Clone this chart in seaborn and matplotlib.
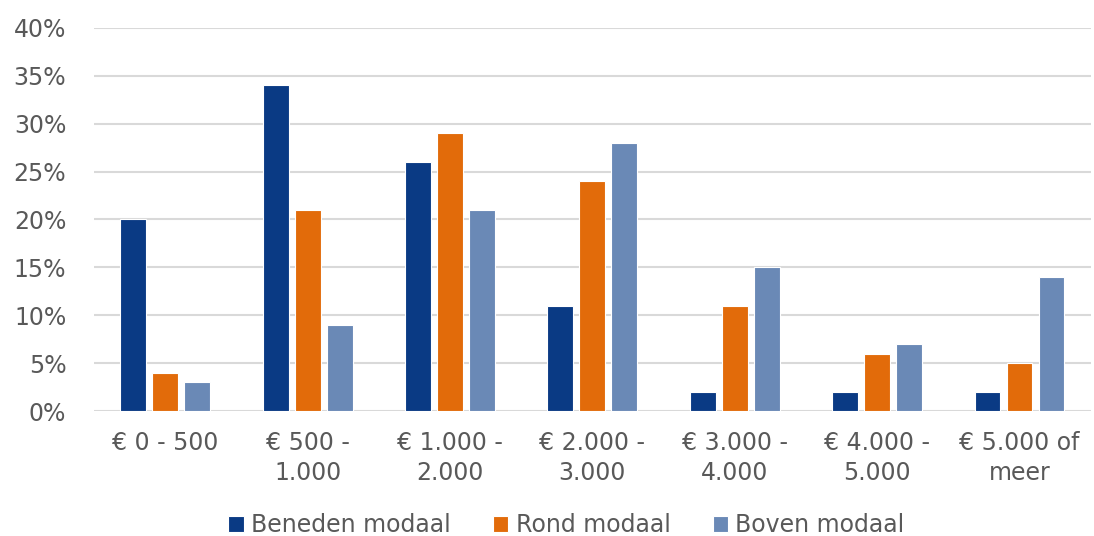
import numpy as np
import pandas as pd
import matplotlib
matplotlib.use("Agg")
import matplotlib.pyplot as plt
import seaborn as sns
from matplotlib.ticker import PercentFormatter

categories = ["€ 0 - 500", "€ 500 -\n1.000", "€ 1.000 -\n2.000", "€ 2.000 -\n3.000",
              "€ 3.000 -\n4.000", "€ 4.000 -\n5.000", "€ 5.000 of\nmeer"]
series = ["Beneden modaal", "Rond modaal", "Boven modaal"]
beneden = [20, 34, 26, 11, 2, 2, 2]
rond = [4, 21, 29, 24, 11, 6, 5]
boven = [3, 9, 21, 28, 15, 7, 14]
colors = ["#0a3a84", "#e26b0a", "#6a89b6"]

df = pd.DataFrame({
    "cat": categories * 3,
    "groep": [s for s in series for _ in categories],
    "pct": beneden + rond + boven,
})

sns.set_style("white")
plt.rcParams["font.family"] = ["DejaVu Sans"]
text_col = "#595959"
fs = 17

fig = plt.figure(figsize=(10.94, 5.36), dpi=100)
ax = fig.add_axes([0.086, 0.233, 0.911, 0.715])

sns.barplot(data=df, x="cat", y="pct", hue="groep", palette=colors, saturation=1,
            width=0.674, gap=0.19, edgecolor="white", linewidth=0.8,
            ax=ax, legend=True)

ax.set_ylim(0, 40)
ax.set_xlim(-0.5, len(categories) - 0.5)
ax.set_yticks(range(0, 41, 5))
ax.yaxis.set_major_formatter(PercentFormatter(decimals=0))
ax.grid(axis="y", color="#d9d9d9", linewidth=1.5)
ax.set_axisbelow(True)
for s in ax.spines.values():
    s.set_visible(False)
ax.set_xlabel("")
ax.set_ylabel("")
ax.tick_params(axis="both", length=0, labelsize=fs, colors=text_col)
ax.tick_params(axis="x", pad=14)
ax.tick_params(axis="y", pad=20)
for lbl in ax.get_xticklabels():
    lbl.set_linespacing(1.35)

leg = ax.legend(loc="center", bbox_to_anchor=(0.474, -0.298), ncol=3,
                frameon=False, fontsize=fs, handlelength=0.65, handleheight=0.65,
                handletextpad=0.3, columnspacing=1.8)
for t in leg.get_texts():
    t.set_color(text_col)

fig.savefig("out.png", dpi=100)
